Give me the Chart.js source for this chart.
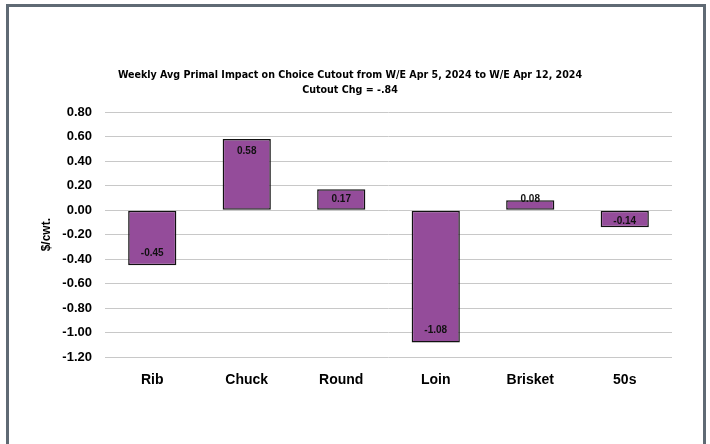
<!doctype html>
<html lang="en">
<head>
    <meta charset="utf-8">
    <title>Weekly Avg Primal Impact on Choice Cutout</title>
    <script src="https://cdn.jsdelivr.net/npm/chart.js"></script>
    <style>
        html, body { margin:0; padding:0; background:#fff; }
        #wrap { position:relative; width:710px; height:444px; overflow:hidden; }
        #frame { position:absolute; left:6px; top:4px; width:694px; height:460px; border:3px solid #5f6a74; box-sizing:content-box; }
        #chart-0 { position:absolute; left:0; top:0; }
    </style>
    <script>
        // 데이터
        const primals = ['Rib', 'Chuck', 'Round', 'Loin', 'Brisket', '50s'];
        const impact = [-0.45, 0.58, 0.17, -1.08, 0.08, -0.14];
        const impactLabels = ['-0.45', '0.58', '0.17', '-1.08', '0.08', '-0.14'];
        const titleLines = ['Weekly Avg Primal Impact on Choice Cutout from W/E Apr 5, 2024 to W/E Apr 12, 2024', 'Cutout Chg = -.84'];
        const yMin = -1.2, yMax = 0.8, yStep = 0.2;

        const barFont = 'bold 10px "Liberation Sans", Arial, sans-serif';

        // 막대 안쪽 끝에 값 표시 (짧은 막대는 밖으로 밀림)
        const insideEndLabels = {
            id: 'insideEndLabels',
            afterDatasetsDraw(chart) {
                const ctx = chart.ctx;
                const meta = chart.getDatasetMeta(0);
                const base = chart.scales.y.getPixelForValue(0);
                ctx.save();
                ctx.font = barFont;
                ctx.fillStyle = '#111';
                ctx.textAlign = 'center';
                ctx.textBaseline = 'middle';
                meta.data.forEach((bar, i) => {
                    const h = Math.abs(bar.y - base);
                    const dir = impact[i] >= 0 ? 1 : -1;
                    const off = Math.min(12, h - 11);
                    ctx.fillText(impactLabels[i], bar.x, bar.y + dir * off);
                });
                ctx.restore();
            }
        };

        window.addEventListener('load', () => {
            const ctx = document.querySelector('canvas#chart-0');
            window.myChart0 = new Chart(ctx, {
                type: 'bar',
                data: {
                    labels: primals,
                    datasets: [{
                        label: 'Impact',
                        data: impact,
                        backgroundColor: '#944c9a',
                        borderColor: '#111',
                        borderWidth: 1.5,
                        borderSkipped: false,
                        categoryPercentage: 1,
                        barPercentage: 0.51,
                    }]
                },
                options: {
                    responsive: false,
                    animation: false,
                    layout: {
                        padding: { left: 28, right: 38, top: 60, bottom: 48 }
                    },
                    plugins: {
                        legend: { display: false },
                        tooltip: { enabled: false },
                        title: {
                            display: true,
                            text: titleLines,
                            color: '#000',
                            font: { family: '"DejaVu Sans Condensed", "Liberation Sans", sans-serif', size: 10.6, weight: 'bold', lineHeight: 1.42 },
                            padding: { top: 8, bottom: 14 }
                        }
                    },
                    scales: {
                        x: {
                            grid: { display: false },
                            border: { display: false },
                            ticks: {
                                color: '#000',
                                padding: 7,
                                font: { family: '"Liberation Sans", Arial, sans-serif', size: 14, weight: 'bold' }
                            }
                        },
                        y: {
                            min: yMin,
                            max: yMax,
                            afterFit(scale) { scale.width = 77; },
                            grid: { color: '#c8c8c8', lineWidth: 1, drawTicks: false },
                            border: { display: false },
                            ticks: {
                                stepSize: yStep,
                                padding: 13,
                                color: '#000',
                                font: { family: '"Liberation Sans", Arial, sans-serif', size: 13, weight: 'bold' },
                                callback: (v) => v.toFixed(2)
                            },
                            title: {
                                display: true,
                                text: '$/cwt.',
                                color: '#000',
                                padding: { top: 11, bottom: 0 },
                                font: { family: '"Liberation Sans", Arial, sans-serif', size: 12, weight: 'bold' }
                            }
                        }
                    }
                },
                plugins: [insideEndLabels]
            });
        });
    </script>
</head>
<body>
    <div id="wrap">
        <canvas id="chart-0" width="710" height="444"></canvas>
        <div id="frame"></div>
    </div>
</body>
</html>
